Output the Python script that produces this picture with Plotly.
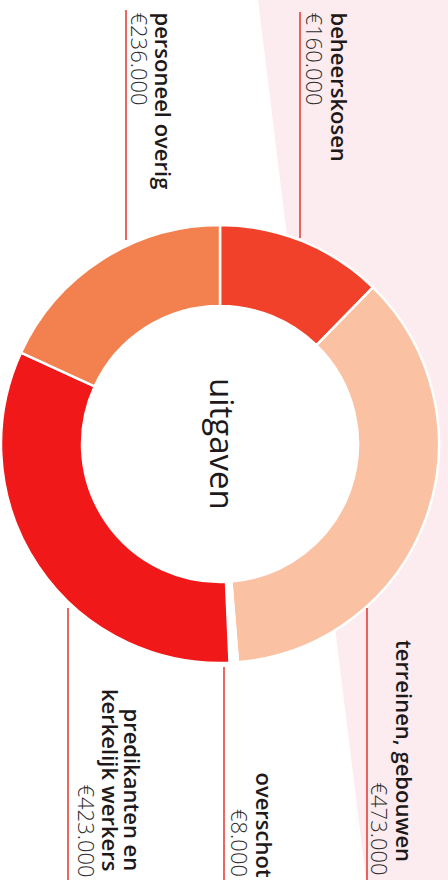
import plotly.graph_objects as go

# ---- data (in thousands of euro) ----
categories = ["beheerskosen", "terreinen, gebouwen", "overschot",
              "predikanten en kerkelijk werkers", "personeel overig"]
values = [160, 473, 8, 423, 236]
colors = ["#f2412b", "#fbc1a3", "#ffffff", "#f01818", "#f3814f"]
center_title = "uitgaven"

W, H = 448, 880
def X(px): return px / W
def Y(py): return 1 - py / H

# donut geometry (pixels)
cx, cy, R = 220, 444, 219

fig = go.Figure()
fig.add_trace(go.Pie(
    labels=categories, values=values, sort=False, direction="clockwise",
    rotation=0, hole=0.63, textinfo="none",
    marker=dict(colors=colors, line=dict(color="#ffffff", width=2.5)),
    domain=dict(x=[X(cx - R), X(cx + R)], y=[Y(cy + R), Y(cy - R)]),
    showlegend=False,
))

def money(v):
    return f"€{v}.000"

LBL = dict(family="Open Sans, Noto Sans, sans-serif", size=22, color="#1e1a1b", weight=600)
VAL = dict(family="Open Sans, Noto Sans, sans-serif", size=22, color="#2e2e2e", weight=300)

ann = []
def add(text, xpx, ypx, font, yanchor):
    ann.append(dict(text=text, x=X(xpx), y=Y(ypx), xref="paper", yref="paper",
                    showarrow=False, textangle=90, xanchor="center", yanchor=yanchor,
                    font=font, borderpad=0))

# top labels (text starts at top)
add(categories[0], 339, 11, LBL, "top")
add(money(values[0]), 314, 11, VAL, "top")
add(categories[4], 163, 11, LBL, "top")
add(money(values[4]), 139, 11, VAL, "top")
# bottom labels (text ends at bottom)
add(categories[1], 405, 863, LBL, "bottom")
add(money(values[1]), 380, 876, VAL, "bottom")
add(categories[2], 265, 878, LBL, "bottom")
add(money(values[2]), 240, 878, VAL, "bottom")
add("predikanten en", 133, 872, LBL, "bottom")
add("kerkelijk werkers", 111, 872, LBL, "bottom")
add(money(values[3]), 87, 878, VAL, "bottom")

# center title
ann.append(dict(text=center_title, x=X(cx + 3), y=Y(cy), xref="paper", yref="paper",
                showarrow=False, textangle=90, xanchor="center", yanchor="middle",
                font=dict(family="Open Sans, Noto Sans, sans-serif", size=33, color="#1e1a1b")))

shapes = [
    # pink background band
    dict(type="path", path="M 258 0 L 448 0 L 448 880 L 366 880 Z",
         xref="x", yref="y", fillcolor="#fdecef", line=dict(width=0), layer="below"),
    # white hole behind donut
    dict(type="circle", xref="x", yref="y", x0=cx - 140, x1=cx + 140,
         y0=cy - 140, y1=cy + 140, fillcolor="#ffffff", line=dict(width=0), layer="below"),
]
LINE = dict(color="#e5403a", width=1.6)
for xpx, y0, y1 in [(300, 12, 238), (126, 10, 240), (367, 608, 880),
                    (224, 667, 880), (68, 608, 880)]:
    shapes.append(dict(type="line", xref="x", yref="y", x0=xpx, x1=xpx, y0=y0, y1=y1,
                       line=LINE, layer="above"))

fig.update_layout(
    width=W, height=H, margin=dict(l=0, r=0, t=0, b=0),
    paper_bgcolor="#ffffff", plot_bgcolor="rgba(0,0,0,0)",
    xaxis=dict(range=[0, W], visible=False, fixedrange=True),
    yaxis=dict(range=[H, 0], visible=False, fixedrange=True),
    annotations=ann, shapes=shapes,
)
fig.write_html("out.html", config={"displayModeBar": False},
               post_script="document.body.style.margin='0';document.body.style.overflow='hidden';")
